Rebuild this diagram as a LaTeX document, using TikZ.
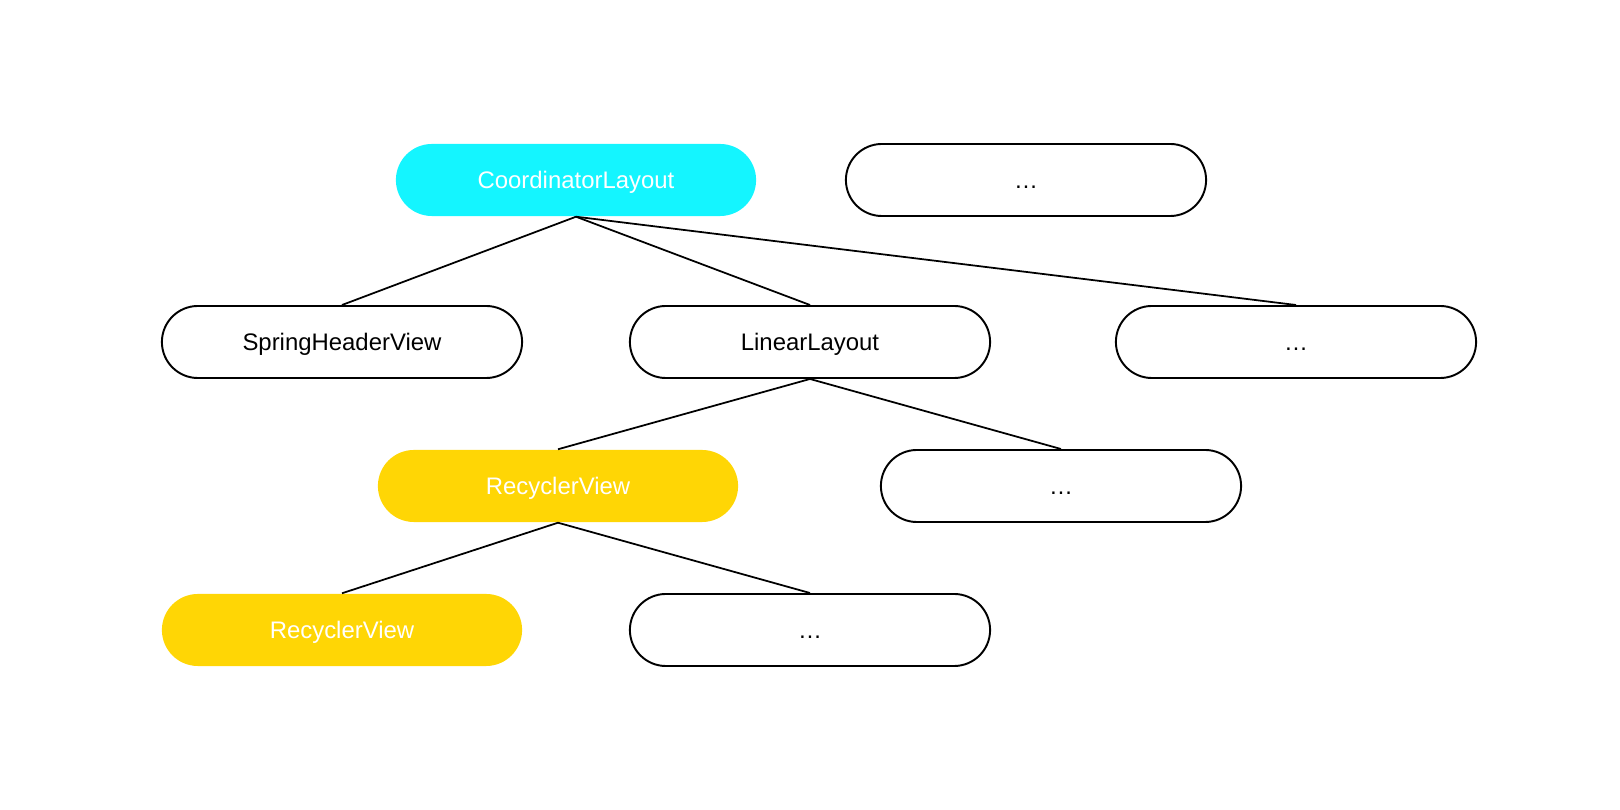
\documentclass[tikz,border=0pt]{standalone}
\usepackage{fontspec}
\setmainfont{Liberation Sans}
\usepackage{tikz}
\definecolor{viewcyan}{RGB}{20,245,255}
\definecolor{viewyellow}{RGB}{255,214,5}
\begin{document}
\begin{tikzpicture}[x=0.01cm,y=-0.01cm,inner sep=0pt,
  pill/.style={rounded corners=0.36cm,minimum width=3.6cm,minimum height=0.72cm,
    text height=4.9pt,text depth=0pt,font=\fontsize{6.8}{8}\selectfont},
  plain/.style={pill,draw,line width=0.55pt,fill=white},
  cyanpill/.style={pill,fill=viewcyan,text=white},
  yellowpill/.style={pill,fill=viewyellow,text=white}]
\useasboundingbox (0,0) rectangle (1620,810);
\draw (576, 180) node[cyanpill](node0) {CoordinatorLayout};
\draw (1026, 180) node[plain](node1) {…};
\draw (342, 342) node[plain](node2) {SpringHeaderView};
\draw (810, 342) node[plain](node3) {LinearLayout};
\draw (1296, 342) node[plain](node4) {…};
\draw (558, 486) node[yellowpill](node5) {RecyclerView};
\draw (1061, 486) node[plain](node6) {…};
\draw (342, 630) node[yellowpill](node7) {RecyclerView};
\draw (810, 630) node[plain](node8) {…};
\draw[line width=0.5pt] (node0.south) -- (node2.north);
\draw[line width=0.5pt] (node0.south) -- (node3.north);
\draw[line width=0.5pt] (node0.south) -- (node4.north);
\draw[line width=0.5pt] (node3.south) -- (node5.north);
\draw[line width=0.5pt] (node3.south) -- (node6.north);
\draw[line width=0.5pt] (node5.south) -- (node7.north);
\draw[line width=0.5pt] (node5.south) -- (node8.north);
\end{tikzpicture}
\end{document}
